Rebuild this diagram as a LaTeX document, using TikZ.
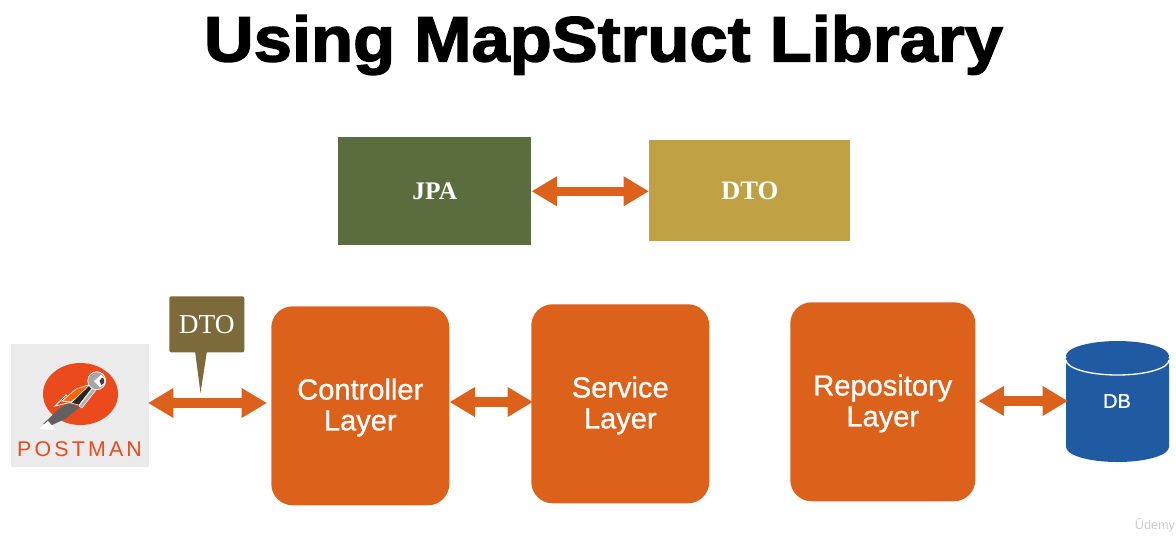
\documentclass[tikz,border=0pt]{standalone}
\usepackage{fontspec}
\setmainfont{Liberation Sans}
\newfontfamily\serifb{Liberation Serif}
\newfontfamily\titlef[FakeBold=2.2,FakeStretch=1.075]{Liberation Sans Bold}
\newfontfamily\layerf[FakeBold=0.9]{Liberation Sans}
\usetikzlibrary{arrows.meta}
\definecolor{orng}{HTML}{DC611B}
\definecolor{jpag}{HTML}{5B6D3E}
\definecolor{dtoy}{HTML}{BFA144}
\definecolor{dtob}{HTML}{7D6A3A}
\definecolor{dbb}{HTML}{1F5AA3}
\definecolor{pred}{HTML}{EA4A1C}
\definecolor{pgry}{HTML}{EBEBEB}
\newcommand{\twolines}[2]{\raisebox{-2.25pt}[\height][\depth]{\begin{tabular}{@{}c@{}}#1\\#2\end{tabular}}}
\tikzset{
  x=0.75pt,y=-0.75pt,
  layer/.style={fill=orng,rounded corners=16pt,inner sep=0pt,text=white,font=\fontsize{21.8}{23.2}\selectfont\layerf},
  flat/.style={inner sep=0pt,text=white,font=\fontsize{19}{20}\selectfont\serifb\bfseries},
  dbl/.style={line width=6.8pt,draw=orng,{Triangle[length=19pt,width=21pt]}-{Triangle[length=19pt,width=21pt]}},
}
\begin{document}
\begin{tikzpicture}
\useasboundingbox (0,0) rectangle (1176,551);
\node[inner sep=0pt,font=\fontsize{48}{55}\selectfont\titlef] (title) at (603.5,45) {Using MapStruct Library};

\node[flat,fill=jpag,minimum width=193*0.75pt,minimum height=108*0.75pt,anchor=north west] (jpa) at (338,137) {JPA};
\node[flat,fill=dtoy,minimum width=201*0.75pt,minimum height=101*0.75pt,anchor=north west,font=\fontsize{20}{21}\selectfont\serifb\bfseries] (dto) at (649,140) {DTO};

\node[layer,minimum width=178*0.75pt,minimum height=199*0.75pt,anchor=north west] (ctl) at (271,306) {\twolines{Controller}{Layer}};
\node[layer,minimum width=178*0.75pt,minimum height=199*0.75pt,anchor=north west] (svc) at (531,304) {\twolines{Service}{Layer}};
\node[layer,minimum width=185*0.75pt,minimum height=199*0.75pt,anchor=north west] (rep) at (790,302) {\twolines{Repository}{Layer}};

% Postman logo
\node[fill=pgry,minimum width=138*0.75pt,minimum height=123*0.75pt,anchor=north west,inner sep=0pt] (pm) at (11,344) {};
\fill[pred] (80.5,394) ellipse [x radius=37.5,y radius=31];
\fill[gray!75!black] (43,424) -- (60,408) -- (68,403) -- (80,407) -- (65,419) -- (52,425) -- cycle;
\fill[white] (39,429) -- (48,421) -- (56,430) -- cycle;
\fill[pred,draw=white,line width=0.6pt] (55,406) -- (66,395) -- (72,402) -- cycle;
\fill[orange!80!red,draw=white,line width=0.5pt] (62,401) -- (76,389) -- (90,384.5) -- (84,392) -- (71,402) -- cycle;
\fill[gray!30!black,draw=white,line width=0.4pt] (71,403) -- (89,385.5) -- (93,387) -- (79,405) -- cycle;
\fill[gray!60,draw=white,line width=0.4pt] (79,406) -- (93,387.5) -- (96,390) -- (82,408) -- cycle;
\fill[gray!70,draw=white,line width=0.5pt] (96.7,380.7) circle [radius=9];
\fill[white] (94,381) -- (101,375) -- (105,378) -- (105,384) -- (100,387) -- cycle;
\fill[gray!50!black] (99.5,381) -- (102,377.5) -- (104,379) -- (104,383) -- (101.5,385) -- cycle;
\node[inner sep=0pt,text=pred,font=\fontsize{16}{18}\selectfont] (pmtxt) at (79.5,449.5) {\addfontfeature{LetterSpace=15}POSTMAN};

% callout
\node[inner sep=0pt,fill=dtob,rounded corners=1.5pt,minimum width=75*0.75pt,minimum height=56*0.75pt,anchor=north west,text=white,font=\fontsize{20.5}{21}\selectfont\serifb] (call) at (169,296) {DTO};
\coordinate (calltip) at (200.5,393);
\fill[dtob] (195,351) -- (calltip) -- (207,351) -- cycle;

% database
\coordinate (dbw) at (1068,401);
\fill[dbb] (1066,358) -- (1066,447) arc [start angle=180,end angle=0,x radius=51.5,y radius=15] -- (1169,358) -- cycle;
\fill[dbb] (1117.5,356) ellipse [x radius=51.5,y radius=15];
\draw[white,line width=1pt] (1066,360) arc [start angle=180,end angle=0,x radius=51.5,y radius=15];
\node[inner sep=0pt,text=white,font=\fontsize{15}{16}\selectfont\layerf] (db) at (1117,401) {DB};

% connectors
\draw[dbl] (jpa.east) -- (dto.west |- jpa.east);
\draw[dbl] (148,403) -- ([xshift=-3pt]ctl.west |- 0,403);
\draw[dbl] (ctl.east |- 0,402) -- ([xshift=1.5pt]svc.west |- 0,402);
\draw[dbl] ([xshift=2.2pt]rep.east |- 0,401) -- (dbw);

\node[inner sep=0pt,text=black!20,font=\fontsize{9.5}{10}\selectfont] (ud) at (1155,525) {Ûdemy};
\end{tikzpicture}
\end{document}
